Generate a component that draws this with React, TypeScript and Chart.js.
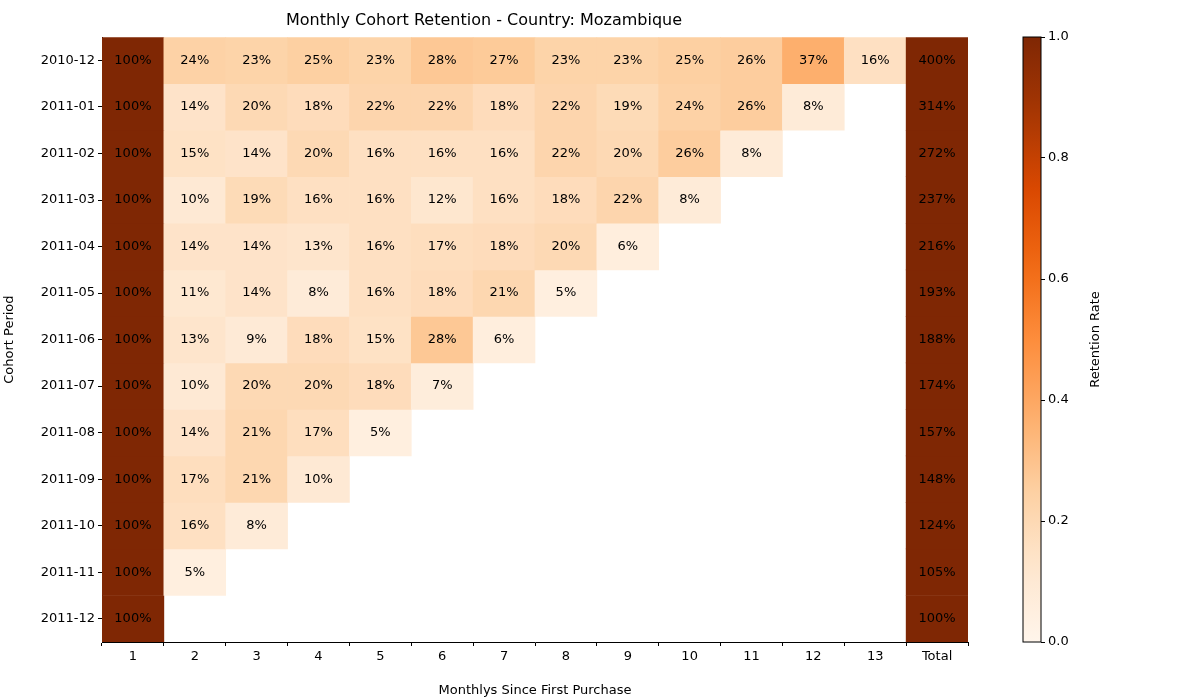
import React, { useEffect, useRef } from "react";
import { Chart, registerables } from "chart.js";
Chart.register(...registerables);

const cohorts = ["2010-12","2011-01","2011-02","2011-03","2011-04","2011-05","2011-06","2011-07","2011-08","2011-09","2011-10","2011-11","2011-12"];
const columns = ["1","2","3","4","5","6","7","8","9","10","11","12","13","Total"];
const retention: number[][] = [
  [100,24,23,25,23,28,27,23,23,25,26,37,16],
  [100,14,20,18,22,22,18,22,19,24,26,8],
  [100,15,14,20,16,16,16,22,20,26,8],
  [100,10,19,16,16,12,16,18,22,8],
  [100,14,14,13,16,17,18,20,6],
  [100,11,14,8,16,18,21,5],
  [100,13,9,18,15,28,6],
  [100,10,20,20,18,7],
  [100,14,21,17,5],
  [100,17,21,10],
  [100,16,8],
  [100,5],
  [100],
];
const totals = [400,314,272,237,216,193,188,174,157,148,124,105,100];
const colorTicks = [0, 0.2, 0.4, 0.6, 0.8, 1.0];

const stops = ["#fff5eb","#fee6ce","#fdd0a2","#fdae6b","#fd8d3c","#f16913","#d94801","#a63603","#7f2704"];
function hex(h: string) { return [1,3,5].map(i => parseInt(h.slice(i,i+2),16)); }
function cmap(v: number) {
  v = Math.max(0, Math.min(1, v));
  const p = v * (stops.length - 1);
  const i = Math.min(Math.floor(p), stops.length - 2);
  const t = p - i;
  const a = hex(stops[i]), b = hex(stops[i+1]);
  const c = a.map((x, k) => Math.round(x + (b[k]-x)*t));
  return `rgb(${c[0]},${c[1]},${c[2]})`;
}

const FONT = "'DejaVu Sans', sans-serif";

export default function App() {
  const r1 = useRef<HTMLCanvasElement>(null);
  const r2 = useRef<HTMLCanvasElement>(null);
  useEffect(() => {
    const datasets = cohorts.map((c, ri) => {
      const vals = columns.map((_, ci) => ci < 13 ? (retention[ri][ci] ?? null) : totals[ri]);
      return {
        label: c,
        data: vals.map(v => v == null ? null : [ri - 0.5, ri + 0.5]) as any,
        texts: vals.map(v => v == null ? "" : v + "%"),
        backgroundColor: vals.map(v => v == null ? "rgba(0,0,0,0)" : cmap(v / 100)),
        borderWidth: 0,
        barPercentage: 1,
        categoryPercentage: 1,
        grouped: false,
      };
    });
    const textPlugin = {
      id: "txt",
      afterDatasetsDraw(chart: any) {
        const ctx = chart.ctx;
        ctx.save();
        ctx.font = `13px ${FONT}`;
        ctx.fillStyle = "#000";
        ctx.textAlign = "center";
        ctx.textBaseline = "middle";
        chart.data.datasets.forEach((ds: any, i: number) => {
          chart.getDatasetMeta(i).data.forEach((el: any, j: number) => {
            if (ds.texts[j]) ctx.fillText(ds.texts[j], el.x, (el.y + el.base) / 2);
          });
        });
        ctx.restore();
      },
    };
    const c1 = new Chart(r1.current!, {
      type: "bar",
      data: { labels: columns, datasets: datasets as any },
      options: {
        animation: false, responsive: false,
        layout: { padding: { left: 0, right: 32, top: 0, bottom: 0 } },
        plugins: {
          legend: { display: false }, tooltip: { enabled: false },
          title: { display: true, text: "Monthly Cohort Retention - Country: Mozambique", color: "#000", font: { family: FONT, size: 16, weight: "normal" }, padding: { top: 11, bottom: 7 } },
        },
        scales: {
          x: {
            grid: { drawOnChartArea: false, tickLength: 4, color: "#000" },
            border: { color: "#000" },
            ticks: { color: "#000", font: { family: FONT, size: 13 } },
            title: { display: true, text: "Monthlys Since First Purchase", color: "#000", font: { family: FONT, size: 13 }, padding: 2 },
            afterFit: (s: any) => { s.height = 58; },
          },
          y: {
            type: "linear", min: -0.5, max: 12.5, reverse: true,
            afterBuildTicks: (s: any) => { s.ticks = cohorts.map((_, i) => ({ value: i })); },
            grid: { drawOnChartArea: false, tickLength: 4, color: "#000" },
            border: { color: "#000" },
            ticks: { color: "#000", font: { family: FONT, size: 13 }, callback: (v: any) => cohorts[v] ?? "" },
            title: { display: true, text: "Cohort Period", color: "#000", font: { family: FONT, size: 13 }, padding: 2 },
            afterFit: (s: any) => { s.width = 102; },
          },
        },
      } as any,
      plugins: [textPlugin],
    });
    const cbPlugin = {
      id: "cb",
      afterDraw(chart: any) {
        const { ctx, chartArea: a } = chart;
        ctx.save();
        ctx.strokeStyle = "#000"; ctx.lineWidth = 1;
        ctx.strokeRect(a.left, a.top, a.right - a.left, a.bottom - a.top);
        ctx.translate(96, (a.top + a.bottom) / 2);
        ctx.rotate(-Math.PI / 2);
        ctx.font = `13px ${FONT}`; ctx.fillStyle = "#000";
        ctx.textAlign = "center"; ctx.textBaseline = "middle";
        ctx.fillText("Retention Rate", 0, 0);
        ctx.restore();
      },
    };
    const c2 = new Chart(r2.current!, {
      type: "bar",
      data: { labels: ["cb"], datasets: [{
        data: [[0, 1]] as any, borderWidth: 0, barPercentage: 1, categoryPercentage: 1,
        backgroundColor: (ctx: any) => {
          const a = ctx.chart.chartArea;
          if (!a) return "#fff";
          const g = ctx.chart.ctx.createLinearGradient(0, a.bottom, 0, a.top);
          for (let i = 0; i <= 20; i++) g.addColorStop(i / 20, cmap(i / 20));
          return g;
        },
      }] },
      options: {
        animation: false, responsive: false,
        layout: { padding: { left: 23, top: 37, bottom: 58, right: 0 } },
        plugins: { legend: { display: false }, tooltip: { enabled: false } },
        scales: {
          x: { display: false },
          y: {
            position: "right", min: 0, max: 1,
            afterBuildTicks: (s: any) => { s.ticks = colorTicks.map(v => ({ value: v })); },
            grid: { drawOnChartArea: false, tickLength: 4, color: "#000" },
            border: { display: false },
            ticks: { color: "#000", font: { family: FONT, size: 13 }, callback: (v: any) => Number(v).toFixed(1) },
            afterFit: (s: any) => { s.width = 159; },
          },
        },
      } as any,
      plugins: [cbPlugin],
    });
    return () => { c1.destroy(); c2.destroy(); };
  }, []);
  return (
    <div style={{ position: "fixed", left: 0, top: 0, width: 1200, height: 700, background: "#fff" }}>
      <canvas ref={r1} width={1000} height={700} style={{ position: "absolute", left: 0, top: 0 }} />
      <canvas ref={r2} width={200} height={700} style={{ position: "absolute", left: 1000, top: 0 }} />
    </div>
  );
}
